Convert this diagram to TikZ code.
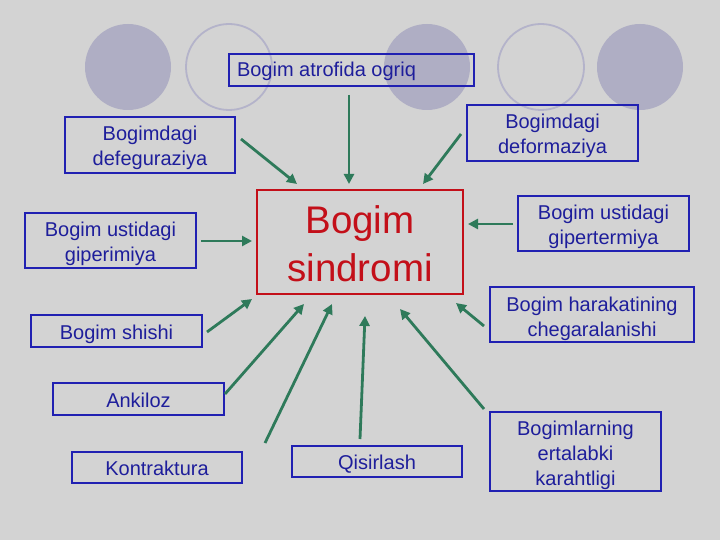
\documentclass[tikz,border=0pt]{standalone}
\usepackage{fontspec}
\setmainfont{Liberation Sans}
\usetikzlibrary{arrows.meta}
\definecolor{bg}{RGB}{211,211,211}
\definecolor{circfill}{RGB}{175,174,196}
\definecolor{circline}{RGB}{180,179,202}
\definecolor{bluetxt}{RGB}{30,30,155}
\definecolor{blueline}{RGB}{32,32,178}
\definecolor{redc}{RGB}{195,15,25}
\definecolor{greenarr}{RGB}{46,122,90}
% #1: height of the first baseline above the node centre
\newcommand{\lowtxt}[2]{\raisebox{#1}[0pt][0pt]{\setlength{\tabcolsep}{0pt}\begin{tabular}[t]{c}#2\end{tabular}}}
\begin{document}
\begin{tikzpicture}[x=1pt,y=-1pt,
  box/.style={draw=blueline, line width=1.6pt, text=bluetxt,
    font=\fontsize{20}{25}\selectfont, inner sep=0pt},
  mainbox/.style={draw=redc, line width=2.4pt, text=redc,
    font=\fontsize{38.5}{48}\selectfont, inner sep=0pt},
  arr/.style={draw=greenarr, line width=2.8pt, -{Triangle[length=10pt,width=10pt]}},
  fcirc/.style={fill=circfill},
  ocirc/.style={draw=circline, line width=1.8pt}]
\useasboundingbox (0,0) rectangle (720,540);
\fill[bg] (0,0) rectangle (720,540);
% decorative circles
\fill[fcirc] (128,67) circle (43pt);
\draw[ocirc] (229,67) circle (43pt);
\fill[fcirc] (427,67) circle (43pt);
\draw[ocirc] (541,67) circle (43pt);
\fill[fcirc] (640,67) circle (43pt);
% central box
\node[mainbox, minimum width=206pt, minimum height=104pt] (c) at (360,242) {\lowtxt{8.7pt}{Bogim\\sindromi}};
% surrounding boxes
\node[box, minimum width=245pt, minimum height=32pt] (atr) at (351.5,70) {\lowtxt{-7pt}{\makebox[229pt][l]{Bogim atrofida ogriq}}};
\node[box, minimum width=170pt, minimum height=56pt] (def) at (150,145) {\lowtxt{4.5pt}{Bogimdagi\\defeguraziya}};
\node[box, minimum width=171pt, minimum height=56pt] (dfm) at (552.5,133) {\lowtxt{4pt}{Bogimdagi\\deformaziya}};
\node[box, minimum width=171pt, minimum height=55pt] (gte) at (603.5,223.5) {\lowtxt{4pt}{Bogim ustidagi\\gipertermiya}};
\node[box, minimum width=171pt, minimum height=55pt] (gim) at (110.5,240.5) {\lowtxt{4pt}{Bogim ustidagi\\giperimiya}};
\node[box, minimum width=171pt, minimum height=32pt] (shi) at (116.5,331) {\lowtxt{-8pt}{Bogim shishi}};
\node[box, minimum width=171pt, minimum height=32pt] (ank) at (138.5,399) {\lowtxt{-8pt}{Ankiloz}};
\node[box, minimum width=170pt, minimum height=31pt] (kon) at (157,467.5) {\lowtxt{-8pt}{Kontraktura}};
\node[box, minimum width=170pt, minimum height=31pt] (qis) at (377,461.5) {\lowtxt{-8pt}{Qisirlash}};
\node[box, minimum width=204pt, minimum height=55pt] (har) at (592,314.5) {\lowtxt{3.5pt}{Bogim harakatining\\chegaralanishi}};
\node[box, minimum width=171pt, minimum height=79pt] (ert) at (575.5,451.5) {\lowtxt{16.5pt}{Bogimlarning\\ertalabki\\karahtligi}};
% arrow end points
\coordinate (atrT) at (349,95);  \coordinate (atrH) at (349,184);
\coordinate (defT) at (241,139); \coordinate (defH) at (297,184);
\coordinate (dfmT) at (461,134); \coordinate (dfmH) at (423,184);
\coordinate (gteT) at (513,224); \coordinate (gteH) at (468,224);
\coordinate (gimT) at (201,241); \coordinate (gimH) at (252,241);
\coordinate (shiT) at (207,332); \coordinate (shiH) at (252,299);
\coordinate (ankT) at (225,394); \coordinate (ankH) at (304,304);
\coordinate (konT) at (265,443); \coordinate (konH) at (332,304);
\coordinate (qisT) at (360,439); \coordinate (qisH) at (365,316);
\coordinate (ertT) at (484,409); \coordinate (ertH) at (400,309);
\coordinate (harT) at (484,326); \coordinate (harH) at (456,303);
% arrows
\foreach \n in {atr,def,dfm,gte,gim,shi,ank,kon,qis,ert,har}
  \draw[arr] (\n T) -- (\n H);
\end{tikzpicture}
\end{document}
